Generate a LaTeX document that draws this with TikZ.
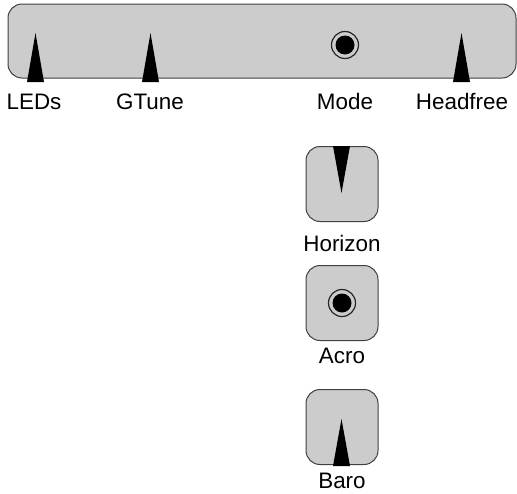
\documentclass[tikz,border=0pt]{standalone}
\usepackage{fontspec}
\setmainfont{Liberation Sans}
\usepackage{xcolor}
\colorlet{colorPanel}{black!20}
\colorlet{colorEdge}{black!75}
\usepackage{tikz}
\usetikzlibrary{positioning}
\tikzset{
  panel/.style={draw=colorEdge, fill=colorPanel, line width=1pt, rounded corners=14pt, inner sep=0pt},
  switchbox/.style={panel, minimum width=72pt, minimum height=75pt},
  caption/.style={inner sep=0pt, font=\fontsize{22.4}{26}\selectfont},
  pointer/.style={fill=black}
}

\begin{document}
\begin{tikzpicture}[x=1pt, y=-1pt]
\useasboundingbox (0,0) rectangle (517,493);
% top bar
\node[panel, minimum width=508pt, minimum height=74pt] (bar) at (262,41) {};
\fill[pointer] (27,82) -- (35.5,33) -- (44,82) -- cycle;
\fill[pointer] (142,82) -- (150.5,33) -- (159,82) -- cycle;
\fill[pointer] (453,82) -- (461.5,33) -- (470,82) -- cycle;
\draw[black!85, line width=1.2pt] (345,45) circle (13.5pt);
\fill (345,45) circle (9.5pt);
\node[caption, anchor=base] (leds) at (34,109) {LEDs};
\node[caption, anchor=base] (gtune) at (150,109) {GTune};
\node[caption, anchor=base] (mode) at (345,109) {Mode};
\node[caption, anchor=base] (headfree) at (462,109) {Headfree};
% switches
\node[switchbox] (horizon) at (342,184) {};
\fill[pointer] (333,146) -- (341.5,193) -- (350,146) -- cycle;
\node[caption, anchor=base] (horizonL) at (342,251) {Horizon};
\node[switchbox, below=43pt of horizon] (acro) {};
\draw[black!85, line width=1.2pt] (acro.center) circle (13.5pt);
\fill (acro.center) circle (9.5pt);
\node[caption, anchor=base] (acroL) at (342,363) {Acro};
\node[switchbox, below=48pt of acro] (baro) {};
\fill[pointer] (333,466) -- (341.5,419) -- (350,466) -- cycle;
\node[caption, anchor=base] (baroL) at (342,488) {Baro};
\end{tikzpicture}
\end{document}
